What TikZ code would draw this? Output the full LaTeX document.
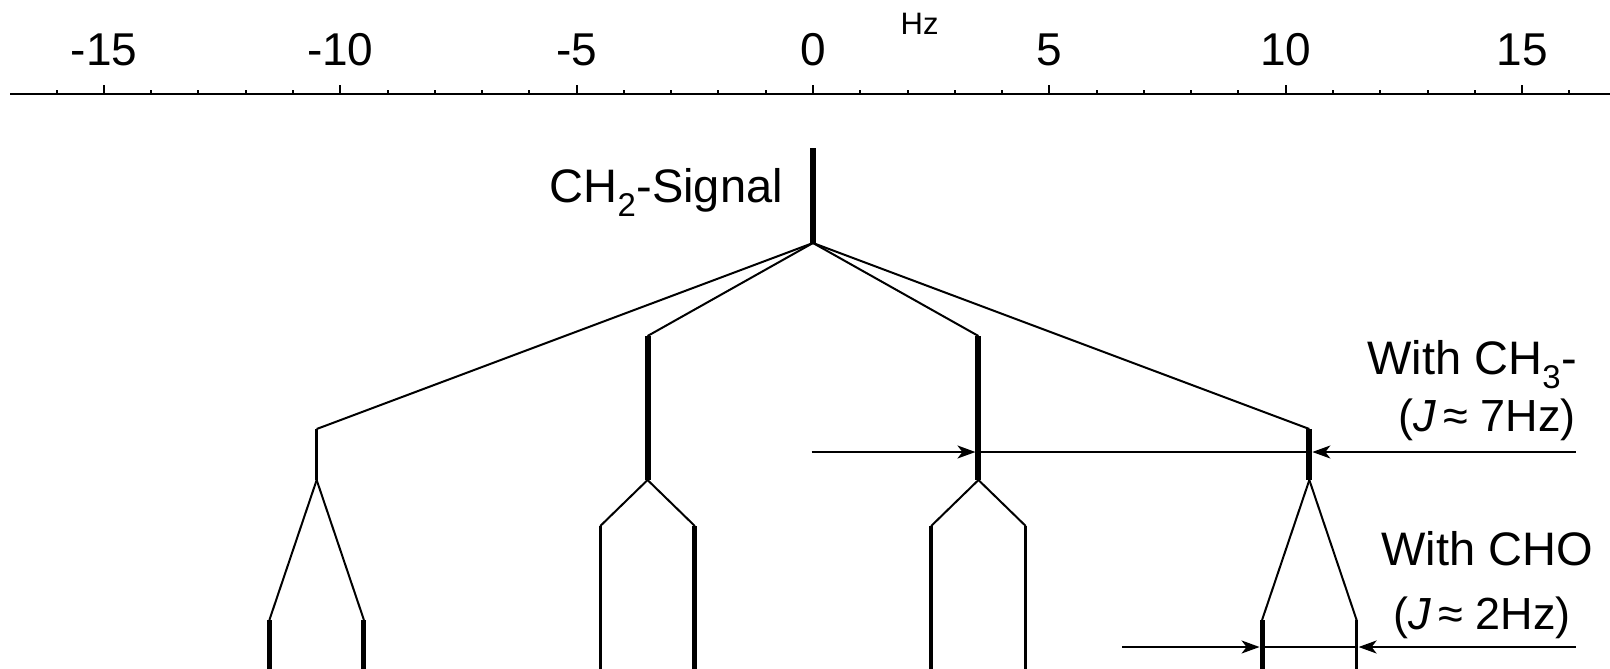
\documentclass[tikz,border=0pt]{standalone}
\usepackage{fontspec}
\setmainfont{Liberation Sans}
\usetikzlibrary{arrows.meta}
\tikzset{
  axisline/.style={line width=2.5pt},
  majortick/.style={line width=2pt},
  minortick/.style={line width=2pt},
  diag/.style={line width=2pt},
  pkthick/.style={line width=6pt},
  pkmed/.style={line width=5pt},
  pkthin/.style={line width=3.5pt},
  jline/.style={line width=2pt},
  jarrow/.style={line width=2pt,-{Stealth[length=18pt,width=13pt,inset=5pt]}},
  ticklbl/.style={anchor=base,inner sep=0pt,font=\fontsize{46}{46}\selectfont},
  unitlbl/.style={anchor=base west,inner sep=0pt,font=\fontsize{31}{31}\selectfont},
  biglbl/.style={anchor=base east,inner sep=0pt,font=\fontsize{47}{47}\selectfont},
  jlbl/.style={anchor=base east,inner sep=0pt,font=\fontsize{45}{45}\selectfont},
}
\begin{document}
\begin{tikzpicture}[x=1pt,y=-1pt]
\useasboundingbox (0,0) rectangle (1610,669);
\fill[white] (0,0) rectangle (1610,669);
% axis
\coordinate (axL) at (10,94);
\coordinate (axR) at (1610,94);
\draw[axisline] (axL) -- (axR);
\begin{scope}[x=47.27pt,y=-1pt,xshift=813pt]
  \foreach \i in {-16,...,16} {
    \draw[minortick] (\i,94) -- (\i,90);
  }
  \foreach \i in {-15,-10,-5,0,5,10,15} {
    \draw[majortick] (\i,94) -- (\i,85);
    \node[ticklbl] (tl\i) at (\i,66) {\i};
  }
  \node[unitlbl] (hz) at (1.85,35) {Hz};
  % tree coordinates
  \coordinate (top) at (0,148);
  \coordinate (root) at (0,243);
  \coordinate (q1) at (-10.5,429); \coordinate (q1b) at (-10.5,480);
  \coordinate (q2) at (-3.5,336);  \coordinate (q2b) at (-3.5,480);
  \coordinate (q3) at (3.5,336);   \coordinate (q3b) at (3.5,480);
  \coordinate (q4) at (10.5,429);  \coordinate (q4b) at (10.5,480);
  \coordinate (d11) at (-11.5,620); \coordinate (d11b) at (-11.5,669);
  \coordinate (d12) at (-9.5,620);  \coordinate (d12b) at (-9.5,669);
  \coordinate (d21) at (-4.5,526);  \coordinate (d21b) at (-4.5,669);
  \coordinate (d22) at (-2.5,526);  \coordinate (d22b) at (-2.5,669);
  \coordinate (d31) at (2.5,526);   \coordinate (d31b) at (2.5,669);
  \coordinate (d32) at (4.5,526);   \coordinate (d32b) at (4.5,669);
  \coordinate (d41) at (9.5,620);   \coordinate (d41b) at (9.5,669);
  \coordinate (d42) at (11.5,620);  \coordinate (d42b) at (11.5,669);
  % arrow line ends
  \coordinate (a1s) at (-0.03,452);
  \coordinate (a1a) at (3.5,452);
  \coordinate (a1b) at (10.5,452);
  \coordinate (a1e) at (16.14,452);
  \coordinate (a2s) at (6.54,647);
  \coordinate (a2a) at (9.5,647);
  \coordinate (a2b) at (11.5,647);
  \coordinate (a2e) at (16.14,647);
\end{scope}
% CH2 signal
\draw[pkthick] (top) -- (root);
\node[biglbl] (ch2) at (783,202) {CH\textsubscript{2}-Signal};
% quartet
\draw[diag] (root) -- (q1);
\draw[diag] (root) -- (q2);
\draw[diag] (root) -- (q3);
\draw[diag] (root) -- (q4);
\draw[pkthin] (q1) -- (q1b);
\draw[pkthick] (q2) -- (q2b);
\draw[pkthick] (q3) -- (q3b);
\draw[pkthick] (q4) -- (q4b);
% doublets
\draw[diag] (q1b) -- (d11);
\draw[diag] (q1b) -- (d12);
\draw[diag] (q2b) -- (d21);
\draw[diag] (q2b) -- (d22);
\draw[diag] (q3b) -- (d31);
\draw[diag] (q3b) -- (d32);
\draw[diag] (q4b) -- (d41);
\draw[diag] (q4b) -- (d42);
\draw[pkmed] (d11) -- (d11b);
\draw[pkmed] (d12) -- (d12b);
\draw[pkthin] (d21) -- (d21b);
\draw[pkmed] (d22) -- (d22b);
\draw[pkthin] (d31) -- (d31b);
\draw[pkthin] (d32) -- (d32b);
\draw[pkmed] (d41) -- (d41b);
\draw[pkthin] (d42) -- (d42b);
% coupling arrows
\draw[jarrow,shorten >=3pt] (a1s) -- (a1a);
\draw[jline] (a1a) -- (a1b);
\draw[jarrow,shorten >=3pt] (a1e) -- (a1b);
\draw[jarrow,shorten >=2.5pt] (a2s) -- (a2a);
\draw[jline] (a2a) -- (a2b);
\draw[jarrow,shorten >=2pt] (a2e) -- (a2b);
% labels
\node[biglbl] (l1) at (1577,374) {With CH\textsubscript{3}-};
\node[jlbl] (l2) at (1576,431) {(\textit{J}\,≈ 7Hz)};
\node[biglbl] (l3) at (1593,565) {With CHO};
\node[jlbl] (l4) at (1571,629) {(\textit{J}\,≈ 2Hz)};
\end{tikzpicture}
\end{document}
